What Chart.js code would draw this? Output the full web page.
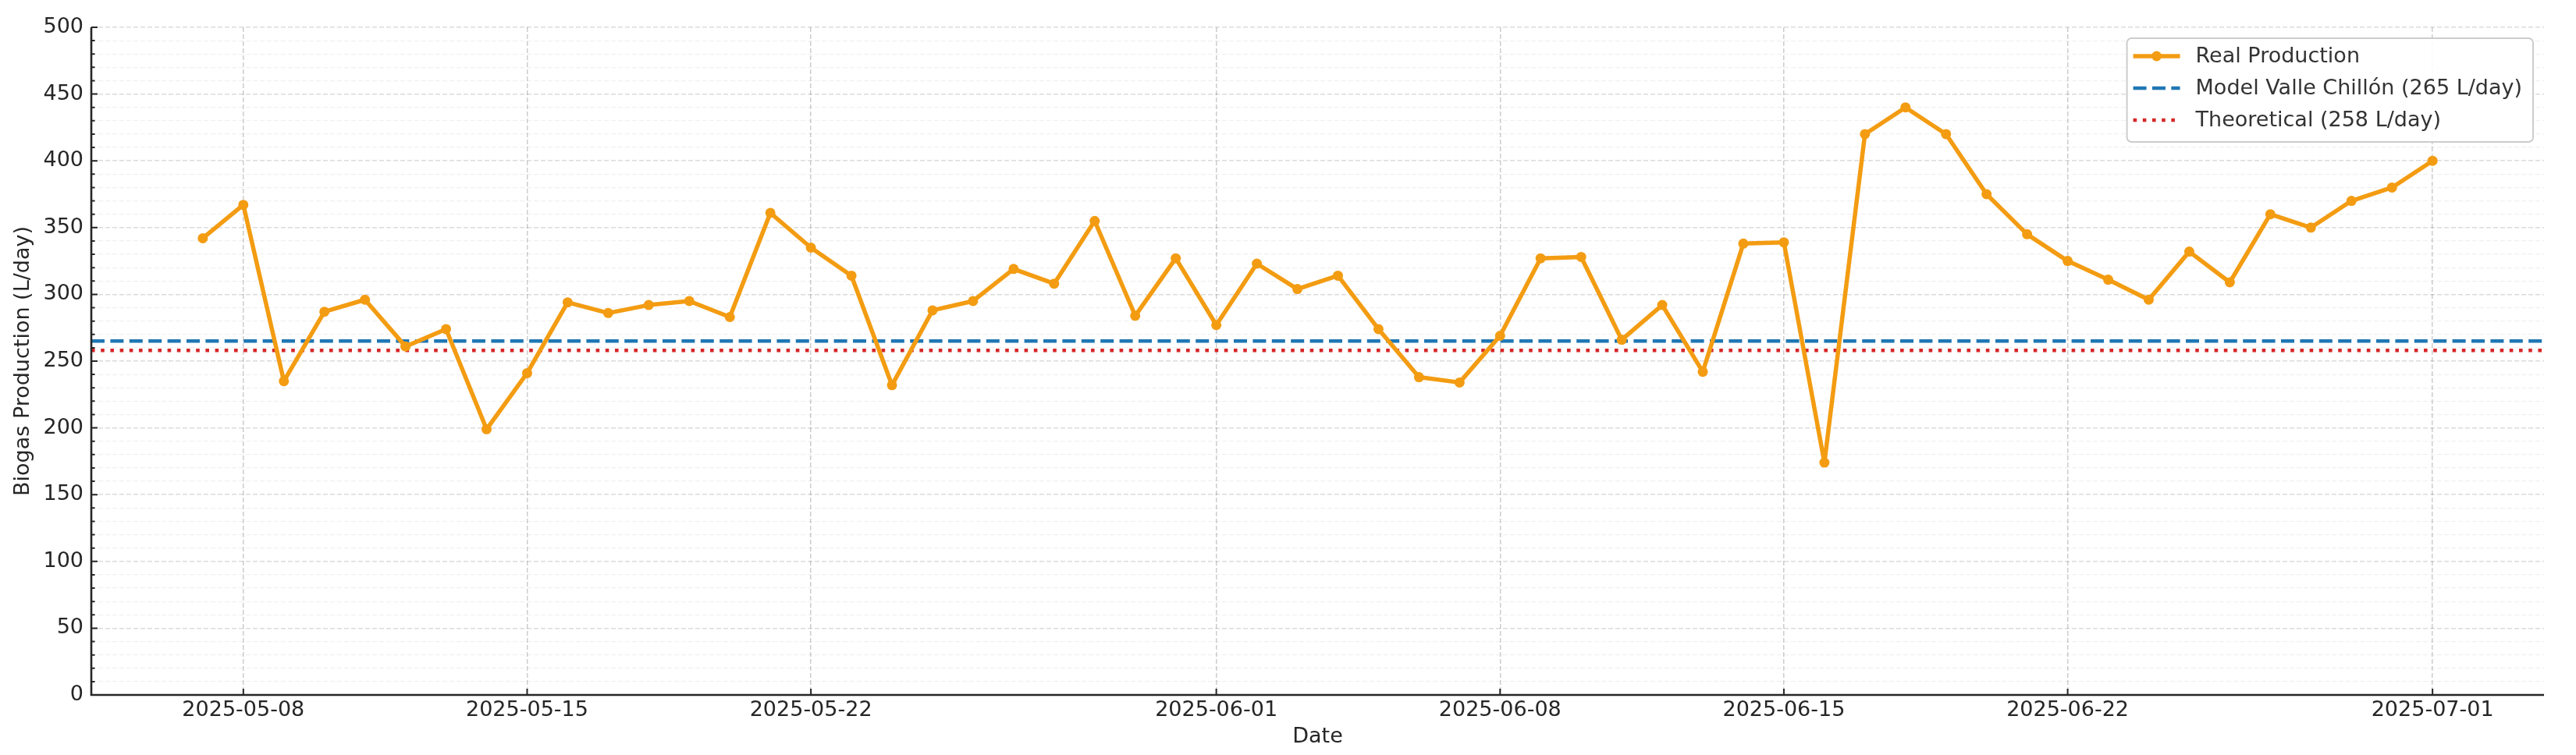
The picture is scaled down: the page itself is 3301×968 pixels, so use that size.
<!DOCTYPE html>
<html>
<head>
<meta charset="utf-8">
<script src="https://cdn.jsdelivr.net/npm/chart.js@4.4.1/dist/chart.umd.min.js"></script>
<style>
  html, body { margin: 0; padding: 0; background: #fff; }
  #wrap { width: 3301px; height: 968px; }
</style>
</head>
<body>
<div id="wrap"><canvas id="biogasChart" width="3301" height="968"></canvas></div>
<script>
// daily readings
const dates = [
  '2025-05-07', '2025-05-08', '2025-05-09', '2025-05-10', '2025-05-11', '2025-05-12', '2025-05-13',
  '2025-05-14', '2025-05-15', '2025-05-16', '2025-05-17', '2025-05-18', '2025-05-19', '2025-05-20',
  '2025-05-21', '2025-05-22', '2025-05-23', '2025-05-24', '2025-05-25', '2025-05-26', '2025-05-27',
  '2025-05-28', '2025-05-29', '2025-05-30', '2025-05-31', '2025-06-01', '2025-06-02', '2025-06-03',
  '2025-06-04', '2025-06-05', '2025-06-06', '2025-06-07', '2025-06-08', '2025-06-09', '2025-06-10',
  '2025-06-11', '2025-06-12', '2025-06-13', '2025-06-14', '2025-06-15', '2025-06-16', '2025-06-17',
  '2025-06-18', '2025-06-19', '2025-06-20', '2025-06-21', '2025-06-22', '2025-06-23', '2025-06-24',
  '2025-06-25', '2025-06-26', '2025-06-27', '2025-06-28', '2025-06-29', '2025-06-30', '2025-07-01'
];
const realProduction = [
  342, 367, 235, 287, 296, 261, 274,
  199, 241, 294, 286, 292, 295, 283,
  361, 335, 314, 232, 288, 295, 319,
  308, 355, 284, 327, 277, 323, 304,
  314, 274, 238, 234, 269, 327, 328,
  266, 292, 242, 338, 339, 174, 420,
  440, 420, 375, 345, 325, 311, 296,
  332, 309, 360, 350, 370, 380, 400
];
const modelValue = 265;        // Valle Chillón model
const theoreticalValue = 258;
const dateTicks = ['2025-05-08', '2025-05-15', '2025-05-22', '2025-06-01', '2025-06-08', '2025-06-15', '2025-06-22', '2025-07-01'];

const orange = '#f39c12';
const blue = '#1f77b4';
const red = '#d62728';
const textColor = '#262626';
const font = { family: '"DejaVu Sans", sans-serif', size: 27 };

const toMs = d => Date.parse(d + 'T00:00:00Z');
const fmtDate = v => new Date(v).toISOString().slice(0, 10);

// matplotlib-like 5% margin on the x range
const first = toMs(dates[0]);
const last = toMs(dates[dates.length - 1]);
const xMin = first - (last - first) * 0.05;
const xMax = last + (last - first) * 0.05;

// axis lines + inward tick marks
const axisTicks = {
  id: 'axisTicks',
  afterDraw(chart) {
    const { ctx, chartArea: a, scales: { x, y } } = chart;
    ctx.save();
    ctx.strokeStyle = textColor;
    ctx.lineWidth = 2;
    ctx.beginPath();
    y.ticks.forEach(t => {
      const py = y.getPixelForValue(t.value);
      const len = t.value % 50 === 0 ? 8 : 4.5;
      ctx.moveTo(a.left, py);
      ctx.lineTo(a.left + len, py);
    });
    x.ticks.forEach(t => {
      const px = x.getPixelForValue(t.value);
      ctx.moveTo(px, a.bottom);
      ctx.lineTo(px, a.bottom - 8);
    });
    ctx.stroke();
    ctx.lineWidth = 2.6;
    ctx.beginPath();
    ctx.moveTo(a.left, a.top);
    ctx.lineTo(a.left, a.bottom);
    ctx.lineTo(a.right, a.bottom);
    ctx.stroke();
    ctx.restore();
  }
};

// legend box in the upper right corner of the plot
const cornerLegend = {
  id: 'cornerLegend',
  afterDraw(chart) {
    const { ctx, chartArea: a } = chart;
    const sets = chart.data.datasets;
    ctx.save();
    ctx.font = font.size + 'px ' + font.family;
    const textW = Math.max(...sets.map(s => ctx.measureText(s.label).width));
    const w = 88 + textW + 14;
    const h = 133;
    const bx = a.right - 14 - w;
    const by = a.top + 14;
    ctx.beginPath();
    ctx.roundRect(bx, by, w, h, 6);
    ctx.fillStyle = 'rgba(255,255,255,0.9)';
    ctx.fill();
    ctx.lineWidth = 2;
    ctx.strokeStyle = '#cccccc';
    ctx.stroke();
    sets.forEach((s, i) => {
      const cy = by + 23 + i * 41;
      ctx.beginPath();
      ctx.setLineDash(s.borderDash || []);
      ctx.lineCap = 'butt';
      ctx.strokeStyle = s.borderColor;
      ctx.lineWidth = s.borderWidth;
      ctx.moveTo(bx + 8, cy);
      ctx.lineTo(bx + 68, cy);
      ctx.stroke();
      ctx.setLineDash([]);
      if (s.pointRadius) {
        ctx.beginPath();
        ctx.fillStyle = s.borderColor;
        ctx.arc(bx + 38, cy, s.pointRadius, 0, Math.PI * 2);
        ctx.fill();
      }
      ctx.fillStyle = '#333333';
      ctx.textBaseline = 'middle';
      ctx.fillText(s.label, bx + 88, cy + 1);
    });
    ctx.restore();
  }
};

new Chart(document.getElementById('biogasChart'), {
  type: 'line',
  data: {
    datasets: [
      {
        label: 'Real Production',
        data: dates.map((d, i) => ({ x: toMs(d), y: realProduction[i] })),
        borderColor: orange,
        backgroundColor: orange,
        borderWidth: 5.5,
        borderJoinStyle: 'round',
        borderCapStyle: 'round',
        pointRadius: 6.5,
        pointBorderWidth: 0,
        pointBackgroundColor: orange,
        tension: 0,
        fill: false
      },
      {
        label: `Model Valle Chillón (${modelValue} L/day)`,
        data: [{ x: xMin, y: modelValue }, { x: xMax, y: modelValue }],
        borderColor: blue,
        borderWidth: 4.6,
        borderDash: [17, 7.4],
        pointRadius: 0,
        fill: false
      },
      {
        label: `Theoretical (${theoreticalValue} L/day)`,
        data: [{ x: xMin, y: theoreticalValue }, { x: xMax, y: theoreticalValue }],
        borderColor: red,
        borderWidth: 4.6,
        borderDash: [4.6, 7.6],
        pointRadius: 0,
        fill: false
      }
    ]
  },
  options: {
    responsive: false,
    animation: false,
    events: [],
    layout: { padding: { top: 35, right: 41, left: 0, bottom: 0 } },
    plugins: { legend: { display: false }, tooltip: { enabled: false } },
    scales: {
      x: {
        type: 'linear',
        min: xMin,
        max: xMax,
        afterBuildTicks: s => { s.ticks = dateTicks.map(d => ({ value: toMs(d) })); },
        afterFit: s => { s.height = 77; },
        ticks: { callback: v => fmtDate(v), font, color: textColor, padding: 4, maxRotation: 0, autoSkip: false },
        grid: { color: 'rgba(0,0,0,0.2)', lineWidth: 1.5, drawTicks: false },
        border: { display: false, dash: [6, 3] },
        title: { display: true, text: 'Date', font, color: textColor, padding: { top: 0, bottom: 7 } }
      },
      y: {
        min: 0,
        max: 500,
        afterFit: s => { s.width = 117; },
        ticks: {
          stepSize: 10,
          autoSkip: false,
          callback: v => (v % 50 === 0 ? String(v) : ''),
          font, color: textColor, padding: 10
        },
        grid: {
          color: c => (c.tick && c.tick.value % 50 === 0 ? 'rgba(0,0,0,0.14)' : 'rgba(0,0,0,0.06)'),
          lineWidth: c => (c.tick && c.tick.value % 50 === 0 ? 1.5 : 1.2),
          drawTicks: false
        },
        border: { display: false, dash: [6, 3] },
        title: { display: true, text: 'Biogas Production (L/day)', font, color: textColor, padding: { top: 14, bottom: 0 } }
      }
    }
  },
  plugins: [axisTicks, cornerLegend]
});
</script>
</body>
</html>
